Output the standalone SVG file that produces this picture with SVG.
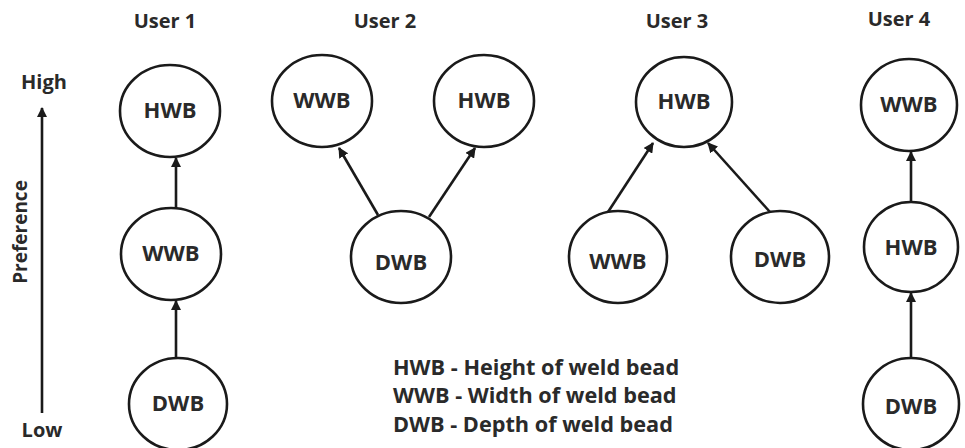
<svg xmlns="http://www.w3.org/2000/svg" width="965" height="448" viewBox="0 0 965 448">
<style>
.n ellipse{fill:#fff;stroke:#1a1a1a;stroke-width:2.6}
.n text{font-family:"Open Sans","Liberation Sans",sans-serif;font-weight:700;font-size:22px;fill:#2a2a2a;text-anchor:middle}
.lbl{font-family:"Open Sans","Liberation Sans",sans-serif;font-weight:700;font-size:20px;fill:#2a2a2a;text-anchor:middle}
.leg{font-family:"Open Sans","Liberation Sans",sans-serif;font-weight:700;font-size:21.7px;fill:#2a2a2a}
.e line{stroke:#1a1a1a;stroke-width:2.6;marker-end:url(#ah)}
</style>
<defs>
<marker id="ah" viewBox="0 0 10 10" refX="9" refY="5" markerWidth="4" markerHeight="4" orient="auto" markerUnits="strokeWidth">
<path d="M0,0 L10,5 L0,10 z" fill="#1a1a1a"/>
</marker>
</defs>
<rect width="965" height="448" fill="#fff"/>
<g id="labels">
<text class="lbl" x="165" y="28">User 1</text>
<text class="lbl" x="385" y="28">User 2</text>
<text class="lbl" x="677" y="28">User 3</text>
<text class="lbl" x="899" y="26">User 4</text>
<text class="lbl" x="44" y="89">High</text>
<text class="lbl" x="42" y="437">Low</text>
<text class="lbl" style="font-size:19px" transform="translate(27,232) rotate(-90)">Preference</text>
</g>
<g id="axis" class="e"><line x1="42" y1="413" x2="42" y2="108"/></g>
<g id="u1-hwb" class="n"><ellipse cx="170" cy="111" rx="50" ry="46"/><text x="170" y="118">HWB</text></g>
<g id="u1-wwb" class="n"><ellipse cx="171" cy="254" rx="50" ry="46"/><text x="171" y="261">WWB</text></g>
<g id="u1-dwb" class="n"><ellipse cx="178" cy="404" rx="49" ry="46"/><text x="178" y="411">DWB</text></g>
<g id="u2-wwb" class="n"><ellipse cx="322" cy="101" rx="50" ry="46"/><text x="322" y="108">WWB</text></g>
<g id="u2-hwb" class="n"><ellipse cx="484" cy="101" rx="50" ry="46"/><text x="484" y="108">HWB</text></g>
<g id="u2-dwb" class="n"><ellipse cx="401" cy="257" rx="50" ry="46"/><text x="401" y="270">DWB</text></g>
<g id="u3-hwb" class="n"><ellipse cx="684" cy="102" rx="48" ry="45"/><text x="684" y="109">HWB</text></g>
<g id="u3-wwb" class="n"><ellipse cx="618" cy="257" rx="49" ry="46"/><text x="618" y="269">WWB</text></g>
<g id="u3-dwb" class="n"><ellipse cx="780" cy="257" rx="49" ry="46"/><text x="780" y="267">DWB</text></g>
<g id="u4-wwb" class="n"><ellipse cx="909" cy="105" rx="48" ry="46"/><text x="909" y="112">WWB</text></g>
<g id="u4-hwb" class="n"><ellipse cx="911" cy="247" rx="47" ry="45"/><text x="911" y="255">HWB</text></g>
<g id="u4-dwb" class="n"><ellipse cx="911" cy="404" rx="48" ry="46"/><text x="911" y="414">DWB</text></g>
<g id="connectors" class="e">
<line x1="176" y1="208" x2="176" y2="158"/>
<line x1="176" y1="358" x2="176" y2="301"/>
<line x1="378" y1="215" x2="339" y2="148"/>
<line x1="429" y1="217" x2="475" y2="148"/>
<line x1="608" y1="212" x2="653" y2="143"/>
<line x1="770" y1="212" x2="708" y2="143"/>
<line x1="911" y1="202" x2="911" y2="152"/>
<line x1="911" y1="357" x2="911" y2="293"/>
</g>
<g id="legend">
<text class="leg" x="393" y="375">HWB - Height of weld bead</text>
<text class="leg" x="393" y="403">WWB - Width of weld bead</text>
<text class="leg" x="393" y="432">DWB - Depth of weld bead</text>
</g>
</svg>
